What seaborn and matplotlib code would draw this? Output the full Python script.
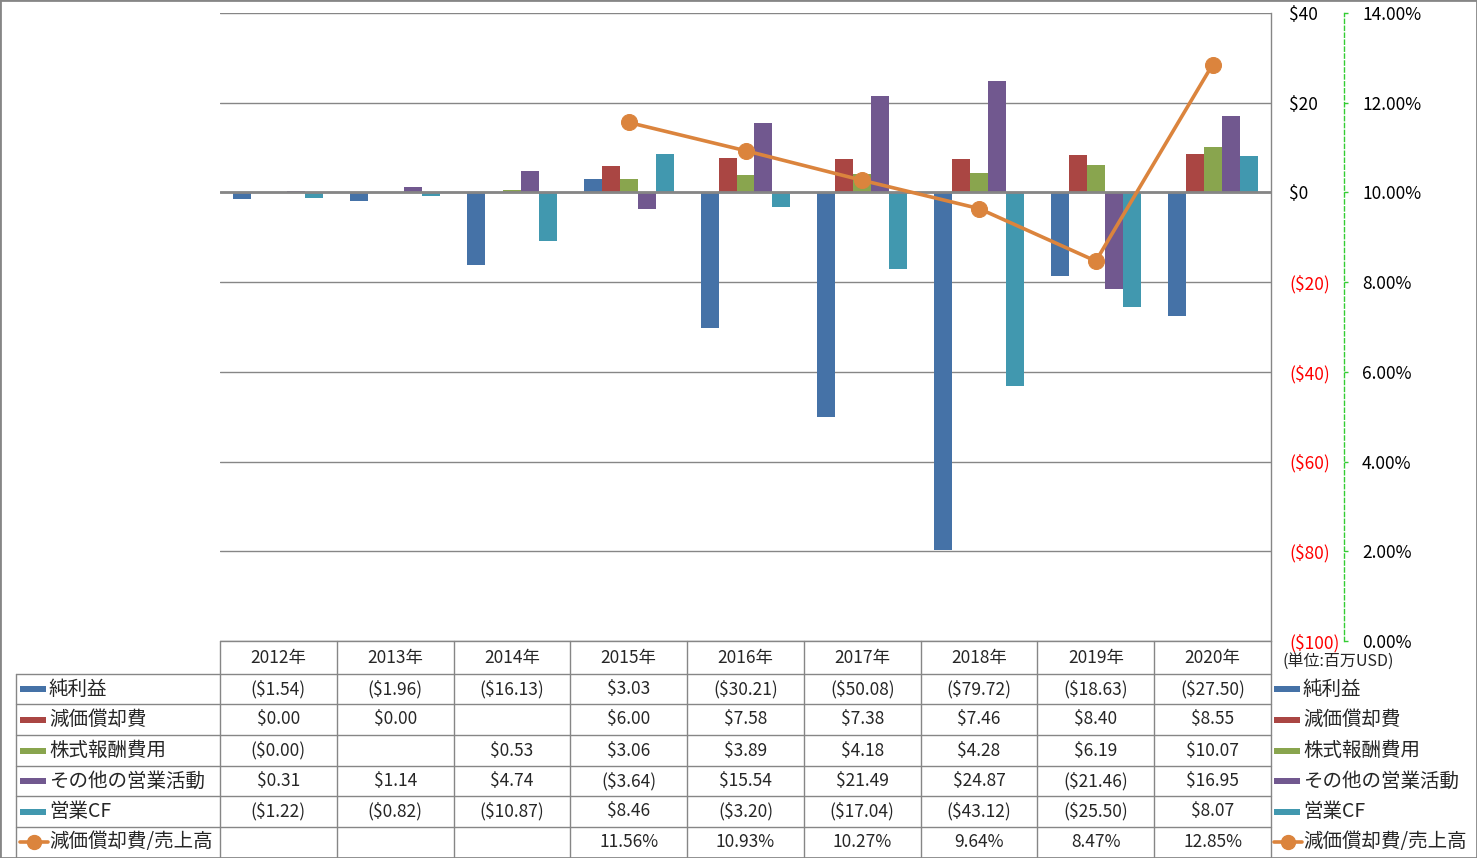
import numpy as np
import pandas as pd
import matplotlib
matplotlib.use("Agg")
import matplotlib.pyplot as plt
from matplotlib.lines import Line2D
from matplotlib.patches import Rectangle
import seaborn as sns

# -------------------------
# data (million USD)
# -------------------------
years = ["2012年", "2013年", "2014年", "2015年", "2016年", "2017年", "2018年", "2019年", "2020年"]
series_names = ["純利益", "減価償却費", "株式報酬費用", "その他の営業活動", "営業CF"]
net_income = [-1.54, -1.96, -16.13, 3.03, -30.21, -50.08, -79.72, -18.63, -27.50]
depreciation = [0.00, 0.00, np.nan, 6.00, 7.58, 7.38, 7.46, 8.40, 8.55]
stock_comp = [-0.004, np.nan, 0.53, 3.06, 3.89, 4.18, 4.28, 6.19, 10.07]
other_ops = [0.31, 1.14, 4.74, -3.64, 15.54, 21.49, 24.87, -21.46, 16.95]
operating_cf = [-1.22, -0.82, -10.87, 8.46, -3.20, -17.04, -43.12, -25.50, 8.07]
ratio_name = "減価償却費/売上高"
dep_ratio = [np.nan, np.nan, np.nan, 11.56, 10.93, 10.27, 9.64, 8.47, 12.85]

colors = ["#4572A7", "#AA4643", "#89A54E", "#71588F", "#4198AF"]
line_color = "#DB843D"
grid_color = "#868686"

sns.set_theme(style="white")
plt.rcParams["font.family"] = ["Noto Sans CJK JP", "DejaVu Sans"]

W, H = 1477, 858
def fx(x):
    return x / W
def fy(y):
    return 1 - y / H

series_vals = [net_income, depreciation, stock_comp, other_ops, operating_cf]
df = pd.DataFrame({
    "year": [y for _ in series_names for y in years],
    "series": np.repeat(series_names, len(years)),
    "value": np.concatenate(series_vals),
})

fig = plt.figure(figsize=(W / 100, H / 100), dpi=100)
left, right, top, bottom = 220, 1271, 13, 641
ax = fig.add_axes([fx(left), fy(bottom), fx(right - left), (bottom - top) / H])

sns.barplot(data=df.dropna(), x="year", y="value", hue="series", order=years,
            hue_order=series_names, palette=colors, saturation=1, width=0.77,
            ax=ax, legend=False, linewidth=0)
ax.set_xlim(-0.5, len(years) - 0.5)
ax.set_ylim(-100, 40)
ax.set_xlabel("")
ax.set_ylabel("")
ax.grid(axis="y", color=grid_color, lw=1)
ax.set_axisbelow(True)
ax.axhline(0, color=grid_color, lw=2, zorder=3)

# secondary axis: ratio line
ax2 = ax.twinx()
ratio_df = pd.DataFrame({"x": np.arange(len(years)), "ratio": dep_ratio}).dropna()
sns.lineplot(data=ratio_df, x="x", y="ratio", ax=ax2, color=line_color, lw=2.6,
             marker="o", markersize=11.5, markeredgecolor=line_color, legend=False)
ax2.set_ylim(0, 14)
yt2 = np.arange(0, 15, 2)
ax2.set_yticks(yt2)
ax2.set_yticklabels([f"{v:.2f}%" for v in yt2])
ax2.set_ylabel("")
ax2.set_xlabel("")
for s in ["left", "top", "bottom"]:
    ax2.spines[s].set_visible(False)
ax2.spines["right"].set_position(("axes", (1344 - left) / (right - left)))
ax2.spines["right"].set_color("#33CC33")
ax2.spines["right"].set_linestyle((0, (3, 2)))
ax2.spines["right"].set_linewidth(1)
ax2.tick_params(axis="y", right=True, length=3, width=1, color="#33CC33",
                direction="out", pad=10, labelsize=12.5, labelcolor="black")
ax2.set_xlim(ax.get_xlim())

# primary axis labels on the right (after twinx)
yt = np.arange(-100, 41, 20)
ax.set_yticks(yt)
ax.set_yticklabels([f"${v}" if v >= 0 else f"(${-v})" for v in yt])
ax.yaxis.tick_right()
ax.tick_params(axis="y", left=False, right=False, labelleft=False, labelright=True,
               length=0, pad=13, labelsize=12.5)
for tick, v in zip(ax.yaxis.get_major_ticks(), yt):
    tick.label2.set_color("red" if v < 0 else "black")
ax.tick_params(axis="x", bottom=False, labelbottom=False)
for s in ["left", "top", "bottom"]:
    ax.spines[s].set_visible(False)
ax.spines["right"].set_visible(True)
ax.spines["right"].set_color(grid_color)
ax.spines["right"].set_linewidth(1)

# -------------------------
# data table
# -------------------------
col_w = (right - left) / len(years)
row_tops = [641, 674, 704, 735, 766, 796, 827, 857]
line_kw = dict(transform=fig.transFigure, color=grid_color, lw=1)

fig.add_artist(Line2D([fx(left), fx(right)], [fy(641), fy(641)], **line_kw))
for y in row_tops[1:-1]:
    fig.add_artist(Line2D([fx(16), fx(right)], [fy(y), fy(y)], **line_kw))
for i in range(len(years) + 1):
    x = left + i * col_w
    fig.add_artist(Line2D([fx(x), fx(x)], [fy(641), fy(857)], **line_kw))
fig.add_artist(Line2D([fx(16), fx(16)], [fy(674), fy(857)], **line_kw))

def fmt_money(v):
    if np.isnan(v):
        return ""
    return f"${v:.2f}" if v >= 0 else f"(${abs(v):.2f})"

for i, yr in enumerate(years):
    xc = left + (i + 0.5) * col_w
    fig.text(fx(xc), fy((641 + 674) / 2), yr, ha="center", va="center", fontsize=12.5)

row_vals = series_vals + [dep_ratio]
row_names = series_names + [ratio_name]
for r, (name, vals) in enumerate(zip(row_names, row_vals)):
    yc = (row_tops[r + 1] + row_tops[r + 2]) / 2
    for i, v in enumerate(vals):
        xc = left + (i + 0.5) * col_w
        if r < len(series_names):
            txt = fmt_money(v)
        else:
            txt = "" if np.isnan(v) else f"{v:.2f}%"
        fig.text(fx(xc), fy(yc), txt, ha="center", va="center", fontsize=12.5)
    # legend keys left (in table) and right
    for kx, tx in [(20, 49), (1274, 1303)]:
        if r < len(series_names):
            fig.add_artist(Rectangle((fx(kx), fy(yc + 3)), fx(26), 6 / H,
                                     transform=fig.transFigure, color=colors[r], lw=0))
        else:
            fig.add_artist(Line2D([fx(kx), fx(kx + 28)], [fy(yc), fy(yc)],
                                  transform=fig.transFigure, color=line_color, lw=2.6))
            fig.add_artist(Line2D([fx(kx + 14)], [fy(yc)], transform=fig.transFigure,
                                  marker="o", markersize=10, color=line_color))
        fig.text(fx(tx), fy(yc), name, ha="left", va="center", fontsize=14)

fig.text(fx(1283), fy(662), "(単位:百万USD)", ha="left", va="center", fontsize=11.5)

# outer border
fig.add_artist(Rectangle((0, 0), 1, 1, transform=fig.transFigure, fill=False,
                         edgecolor=grid_color, lw=2))

fig.savefig("out.png", dpi=100, facecolor="white")
